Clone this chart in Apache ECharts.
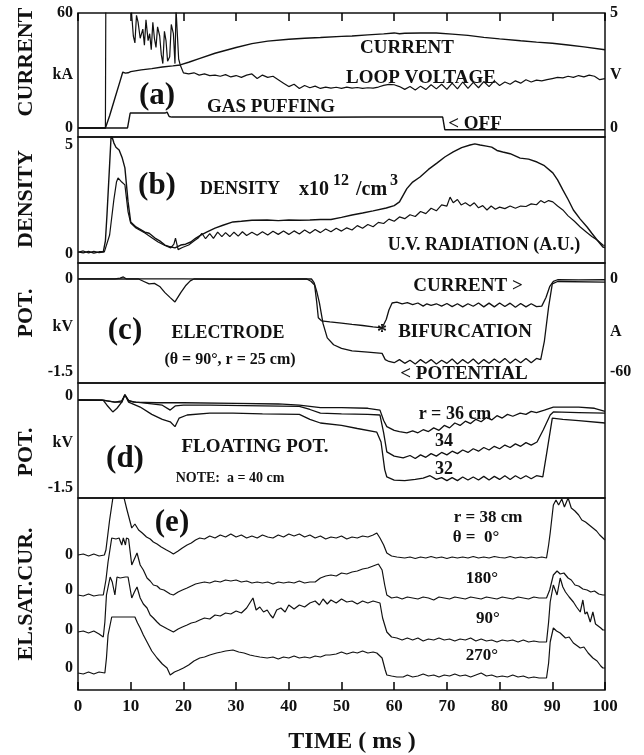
<!DOCTYPE html>
<html>
<head>
<meta charset="utf-8">
<script src="https://cdn.jsdelivr.net/npm/echarts@6/dist/echarts.min.js"></script>
<style>
  html, body { margin: 0; padding: 0; background: #fff; }
  #chart { width: 644px; height: 755px; }
</style>
</head>
<body>
<div id="chart"></div>
<script>
// ---- data: [time ms, value] ----

// (a) current in kA, loop voltage in V, gas puffing (arb., on kA scale)
const plasmaCurrent = [[0,0],[5.2,0],[5.4,1],[6,6.4],[7,15.5],[8,24.6],[8.5,29.2],[9,28.6],[9.5,28.8],[10,29.4],[12,30.3],[14,31],[16,31.8],[18,32.4],[19.4,32.9],[21,34.3],[23,36.2],[26,39],[30,42],[33,44],[36,45.3],[40,46.3],[43,46.8],[46,47.2],[50,47.8],[52,48],[55,48.6],[58,49.1],[60,49.6],[61,49.2],[62,49.4],[65,49.6],[68,49.6],[71,49],[74,48.3],[77,47.3],[80,46.5],[84,45.5],[87,44.8],[90,44.2],[93,43.3],[96,42.3],[100,40.8]];
const loopVoltage = [[0,0],[5.2,0],[5.3,7],[10,7],[10.1,5.2],[10.5,4.0],[10.8,3.7],[11.1,4.9],[11.4,4.6],[11.8,3.9],[12.3,4.3],[12.6,3.6],[12.9,4.7],[13.3,3.8],[13.6,4.1],[13.9,3.4],[14.2,4.6],[14.5,3.9],[14.8,3.5],[15.1,4.4],[15.5,4.0],[15.8,3.2],[16.1,2.8],[16.4,4.2],[16.7,3.8],[17.0,2.9],[17.4,3.1],[17.7,4.5],[18.1,4.1],[18.4,2.8],[18.6,5.2],[18.8,4.3],[19.1,3.0],[19.4,2.74],[20,2.4],[21,2.35],[22,2.4],[23,2.3],[24,2.35],[25,2.28],[26,2.3],[27,2.25],[28,2.32],[29,2.22],[30,2.28],[31,2.2],[32,2.3],[33,2.35],[34,2.15],[35,2.3],[36,2.2],[37,2.25],[38,2.1],[39,1.95],[40,1.8],[41,1.9],[42,1.72],[43,1.85],[44,1.75],[45,1.82],[46,1.72],[47,1.78],[48,1.73],[49,1.77],[50,1.72],[51,1.78],[52,1.73],[53,1.76],[54,1.72],[55,1.75],[56,1.73],[57,1.78],[58,1.85],[59,1.9],[60,1.88],[61,1.8],[62,1.68],[63,1.8],[64,1.65],[65,1.82],[66,1.67],[67,1.88],[68,1.7],[69,1.9],[70,1.68],[71,1.95],[72,1.7],[73,2.0],[74,1.72],[75,1.98],[76,1.75],[77,2.02],[78,1.8],[79,2.05],[80,1.85],[81,2.0],[82,1.9],[83,2.05],[84,1.95],[85,2.1],[86,2.0],[87,2.08],[88,2.05],[89,2.1],[90,2.15],[91,2.2],[92,2.18],[93,2.25],[94,2.2],[95,2.28],[96,2.22],[97,2.3],[98,2.25],[99,2.1],[100,2.15]];
const gasPuffing = [[0,0],[9.4,0],[9.9,7.8],[16.5,7.8],[16.9,8.3],[17.3,6.0],[17.8,5.7],[30,5.7],[45,5.6],[55,5.7],[69.2,5.7],[69.6,-0.9],[100,-0.9]];

// (b) density x10^12 /cm^3 and U.V. radiation (A.U.)
const density = [[0,0.1],[1,0.05],[2,0.12],[3,0.04],[4,0.1],[4.8,0.1],[5.2,0.6],[5.5,1.8],[6.0,4.1],[6.3,5.5],[6.8,5.1],[7.2,4.9],[7.8,4.77],[8.4,4.4],[8.9,3.95],[9.5,2.39],[10,1.47],[11,1.24],[12.7,1.0],[13.5,0.95],[14.6,0.73],[15.5,0.6],[16.5,0.41],[17.5,0.33],[18.4,0.28],[19.5,0.41],[20.4,0.45],[21.4,0.55],[22.3,0.72],[23.3,0.87],[24.5,1.02],[26,1.19],[27.5,1.32],[29.4,1.47],[31,1.5],[33,1.55],[35.9,1.56],[38,1.53],[40,1.56],[42,1.55],[44,1.56],[46,1.58],[48,1.58],[50,1.68],[52,1.79],[54,1.88],[56,1.98],[58.5,2.11],[60,2.22],[61,2.39],[62.4,3.0],[63.5,3.3],[64.9,3.53],[66.5,3.88],[68.1,4.17],[69.6,4.45],[71.2,4.68],[72.8,4.88],[74.4,5.0],[75.3,5.05],[76.3,5.0],[77.5,4.95],[78.5,4.9],[79.5,4.75],[80.6,4.68],[82,4.6],[83.9,4.4],[85.5,4.35],[87.1,4.22],[88.5,4.05],[90.1,3.72],[91,3.4],[92,2.94],[93,2.5],[94,2.02],[95.3,1.6],[96.6,1.24],[97.5,0.95],[98.5,0.64],[99.6,0.32],[100,0.3]];
const uvRadiation = [[0,0.08],[1,0.14],[2,0.05],[3,0.12],[4,0.06],[5,0.1],[5.3,0.12],[6,0.87],[6.8,2.48],[7.3,3.3],[7.6,3.49],[8.3,3.3],[8.9,3.17],[9.5,1.93],[10,1.42],[11,1.19],[12.7,0.96],[14,0.75],[15.2,0.55],[16.4,0.4],[17.6,0.28],[18.2,0.45],[18.5,0.73],[19,0.2],[19.8,0.3],[21,0.41],[22,0.6],[22.8,0.73],[23.5,0.95],[24.2,0.7],[25,0.93],[25.7,0.72],[26.5,1.0],[27.3,0.8],[28,0.98],[28.8,0.8],[29.6,1.0],[30.4,0.82],[31.2,1.02],[32,0.85],[33,1.0],[34,0.86],[35,1.02],[36,0.87],[37,1.04],[38,0.9],[39,1.05],[40,0.9],[41,1.06],[42,0.92],[43,1.1],[44,0.95],[45,1.12],[46,0.98],[47,1.15],[48,1.02],[49,1.18],[50,1.05],[51,1.2],[52,1.1],[53,1.3],[54,1.18],[55,1.35],[56,1.25],[57,1.45],[58,1.4],[59,1.6],[60,1.5],[61,1.7],[62,1.62],[63,1.8],[64,1.72],[65,1.95],[66,1.85],[67,2.1],[68,1.98],[69,2.25],[70,2.2],[70.6,2.61],[71.2,2.35],[72,2.5],[72.7,2.25],[73.5,2.35],[74.4,2.2],[75.2,2.35],[76,2.12],[76.8,2.22],[77.6,2.02],[78.4,2.2],[79.2,2.05],[80,2.15],[81,2.08],[82,2.2],[83,2.1],[84,2.2],[85,2.18],[86,2.3],[87,2.26],[87.8,2.45],[88.5,2.35],[89.3,2.45],[90.1,2.39],[91,2.2],[92,2.02],[93,1.75],[94.2,1.5],[95.3,1.24],[96.5,1.0],[97.5,0.8],[98.5,0.64],[99.6,0.41],[100,0.4]];

// (c) electrode potential in kV, electrode current in A
const electrodePot = [[0,0],[11.5,0],[12.5,-0.04],[13.5,-0.08],[14.5,-0.07],[15.5,-0.12],[16.5,-0.22],[17.5,-0.3],[18.4,-0.37],[19.5,-0.22],[20.5,-0.1],[21.3,-0.03],[22,0],[44.3,0],[44.8,-0.06],[45.3,-0.2],[45.8,-0.38],[46.5,-0.72],[47.3,-0.95],[48.5,-1.06],[50,-1.12],[52,-1.16],[55,-1.18],[57.7,-1.2],[58.3,-1.3],[59,-1.33],[60,-1.35],[61,-1.3],[62,-1.36],[63,-1.31],[64,-1.37],[65,-1.3],[66,-1.36],[67,-1.3],[68,-1.37],[69,-1.31],[70,-1.36],[71,-1.29],[72,-1.37],[73,-1.3],[74,-1.36],[75,-1.29],[76,-1.37],[77,-1.3],[78,-1.36],[79,-1.29],[80,-1.35],[81,-1.28],[82,-1.36],[83,-1.29],[84,-1.35],[85,-1.28],[86,-1.35],[87,-1.28],[87.8,-1.3],[88.5,-1.0],[89.3,-0.45],[90,-0.08],[91,-0.04],[100,-0.05]];
const electrodeCur = [[0,0],[7,0],[8,0.5],[8.6,1.3],[9.2,0],[20,0],[30,-0.3],[43.4,0],[44.2,-1.5],[44.9,-4],[45.3,-15],[45.6,-25],[46.2,-27],[47.8,-27.7],[50,-28.5],[52,-29.3],[54,-30],[56,-30.9],[57.7,-31.6],[58.5,-26],[59,-20],[59.6,-15.5],[60.5,-15],[61.5,-16],[62.5,-15.3],[63.5,-16.5],[64.5,-15.5],[65.5,-17.5],[66.2,-16],[67,-17],[68,-16],[69,-17.5],[70,-15.8],[71,-17.8],[72,-16],[73,-18],[74,-16],[75,-17.6],[76,-15.5],[77,-18],[78,-15.6],[79,-18],[80,-15.5],[81,-17.8],[82,-15.6],[83,-18.2],[84,-15.8],[85,-18],[86,-16],[87,-17.8],[88,-17.5],[88.8,-12],[89.5,-5],[90.2,-1.5],[91,-0.5],[95,-0.6],[100,-0.5]];

// (d) floating potential in kV at r = 36, 34, 32 cm
const floatR36 = [[0,-0.065],[4.5,-0.065],[5.5,-0.08],[7,-0.1],[8.3,-0.1],[8.9,0.02],[9.6,-0.07],[10.5,-0.1],[15,-0.11],[20,-0.11],[30,-0.12],[38,-0.13],[42,-0.15],[46,-0.19],[50,-0.19],[55,-0.2],[57.3,-0.23],[58,-0.4],[58.6,-0.5],[60,-0.56],[61,-0.58],[62.4,-0.6],[63.5,-0.57],[64.5,-0.6],[65.5,-0.55],[66.5,-0.58],[67.5,-0.52],[68.5,-0.56],[69.5,-0.48],[70.5,-0.52],[71.5,-0.44],[72.5,-0.48],[73.5,-0.41],[74.5,-0.45],[75.5,-0.38],[76.5,-0.42],[77.5,-0.35],[78.5,-0.39],[79.5,-0.32],[80.5,-0.36],[81.5,-0.3],[82.5,-0.33],[83.9,-0.28],[85,-0.3],[86,-0.25],[87,-0.27],[88.5,-0.23],[89.5,-0.2],[90.2,-0.18],[95,-0.18],[98,-0.2],[100,-0.25]];
const floatR34 = [[0,-0.065],[5,-0.07],[7,-0.1],[8.3,-0.08],[8.9,0.02],[9.6,-0.08],[11,-0.1],[14,-0.13],[16,-0.15],[17.5,-0.23],[18.5,-0.16],[20,-0.15],[25,-0.15],[35,-0.16],[42,-0.17],[44,-0.22],[46,-0.28],[50,-0.29],[55,-0.3],[57.3,-0.31],[58,-0.6],[58.6,-0.91],[60,-0.98],[61.7,-1.01],[63,-0.97],[64,-1.02],[65,-0.96],[66,-1.0],[67,-0.94],[68,-0.98],[69,-0.92],[70,-0.96],[71,-0.9],[72,-0.94],[73,-0.88],[74,-0.92],[75,-0.86],[76,-0.9],[77,-0.84],[78,-0.88],[79,-0.82],[80,-0.86],[81,-0.8],[82,-0.84],[83,-0.78],[84,-0.82],[85,-0.76],[86,-0.8],[87.1,-0.75],[88.3,-0.55],[89.6,-0.31],[90.2,-0.26],[95,-0.27],[100,-0.28]];
const floatR32 = [[0,-0.065],[4.8,-0.07],[5.5,-0.15],[6.6,-0.26],[7.4,-0.2],[8.3,-0.1],[8.9,0.02],[9.6,-0.1],[11.8,-0.18],[14,-0.3],[16,-0.38],[17.5,-0.42],[18.4,-0.5],[19.2,-0.36],[20.7,-0.31],[25,-0.28],[29.4,-0.28],[35,-0.29],[42,-0.3],[44,-0.38],[46,-0.44],[50,-0.48],[53,-0.53],[56.7,-0.59],[57.5,-0.75],[58.2,-1.2],[58.6,-1.32],[60,-1.37],[62,-1.38],[64,-1.36],[65.5,-1.34],[66.8,-1.3],[68,-1.36],[69,-1.33],[70,-1.38],[71,-1.33],[72,-1.38],[73,-1.32],[74,-1.37],[75,-1.32],[76,-1.37],[77,-1.31],[78,-1.37],[79,-1.31],[80,-1.36],[81,-1.3],[82,-1.36],[83,-1.3],[84,-1.35],[85,-1.3],[86,-1.35],[87,-1.3],[88.2,-1.32],[89,-0.9],[90,-0.36],[92,-0.38],[95,-0.4],[100,-0.44]];

// (e) electron saturation current (A.U.), each relative to its own zero
const satCur0 = [[0,0],[1,1],[2,-1],[3,1],[4,-1],[5,0],[5.3,5],[6,35],[6.7,60],[8.6,60],[9.3,45],[10.2,27],[10.8,31],[11.5,25],[12.2,22],[13,18],[13.7,16],[14.3,13],[15,11],[15.8,8],[16.8,5],[17.5,3],[18.1,1],[19,4],[19.8,7],[20.7,10],[21.5,12],[22.3,15],[23.1,17],[24,16],[25,19],[26,17],[27,20],[28,18],[29,21],[30,18],[31,20],[32,17],[33,19],[34,17],[35,20],[36,18],[37,17],[38,20],[39,18],[40,21],[41,19],[42,21],[43,18],[44,20],[45,17],[46,19],[47,16],[48,18],[49,17],[50,19],[51,16],[52,18],[53,17],[54,19],[55,18],[56,20],[56.7,22],[57.3,17],[58,10],[58.6,2],[59.5,-1],[60.5,-2],[62,-3],[63,-2],[64,-3.5],[65,-2],[66,-3],[67,-1.5],[68,-3],[69,-2],[70,-3.5],[71,-2],[72,-3],[73,-2],[74,-3],[75,-1.5],[76,-3],[77,-2],[78,-3],[79,-1.5],[80,-2.5],[81,-3],[82,-1.5],[83,-3],[84,-2],[85,-3],[86,-2],[87,-3],[88,-2],[88.9,-3],[89.3,10],[89.6,22],[90.2,50],[90.7,55],[91.2,50],[91.8,56],[92.3,48],[93,57],[93.6,47],[94.3,44],[95,40],[95.6,35],[96.3,33],[97,30],[97.7,27],[98.4,24],[99,20],[99.6,17],[100,15]];
const satCur180 = [[0,0],[1,-1],[2,1],[3,-1],[4,0],[4.8,0],[5.3,15],[5.7,33],[6.4,57],[7.2,56],[7.8,57],[8.3,50],[8.6,57],[9,50],[9.2,57],[9.6,56],[10.2,30],[10.7,36],[11.2,42],[11.8,30],[12.4,25],[13.1,17],[13.7,14],[14.3,10],[15,9],[15.6,6],[16.3,5],[16.9,3],[17.5,1],[18.1,0],[19,3],[19.8,5],[20.7,7],[21.5,9],[22.3,11],[23.1,12],[24,13],[25,12],[26,14],[27,13],[28,15],[29,14],[30,15],[31,13],[32,14],[33,12],[34,13],[35,12],[36,13],[37,11],[38,13],[39,12],[40,13],[41,12],[42,14],[43,12],[44,13],[45,13],[46,17],[47,19],[48,20],[49,19],[50,22],[51,21],[52,23],[53,24],[54,26],[55,27],[56,29],[57,31],[57.3,33],[57.7,25],[58.2,10],[58.6,0],[59.5,-3],[60.5,-2],[61.5,-4],[62.5,-2],[63.5,-3],[64.5,-4],[65.5,-2],[66.5,-3],[67.5,-5],[68.5,-2],[69.5,-3],[70.5,-4],[71.5,-2],[72.5,-3],[73.5,-4],[74.5,-2],[75.5,-3],[76.5,-4],[77.5,-2],[78.5,-3],[79.5,-4],[80.5,-2],[81.5,-3],[82.5,-4],[83.5,-2],[84.5,-3],[85.5,-4],[86.5,-2],[87.5,-3],[88.9,-3],[89.5,5],[90.2,20],[90.9,24],[91.5,21],[92.2,22],[93,17],[93.6,15],[94.3,10],[95,9],[95.8,6],[96.6,5],[97.3,3],[98,4],[98.8,1],[99.6,0],[100,0]];
const satCur90 = [[0,0],[1,1],[2,-1],[3,1],[4,-2],[4.8,-5],[5.1,10],[5.4,37],[6.1,55],[6.5,50],[7.0,37],[7.4,55],[8,54],[9,55],[9.5,55],[10.2,34],[10.7,40],[11.2,45],[11.8,34],[12.4,28],[13.1,24],[13.7,17],[14.3,14],[15,10],[15.6,7],[16.3,5],[17,3],[18.1,0],[19,3],[19.8,5],[20.7,7],[21.5,9],[22.3,10],[23.1,12],[24,14],[25,13],[26,17],[27,16],[28,19],[29,18],[30,21],[31,19],[32,24],[33.2,34],[33.8,22],[34.5,25],[35.2,20],[35.9,22],[36.5,17],[37,14],[37.7,22],[38.5,24],[39.3,20],[40,27],[41,23],[42,27],[43,25],[44,29],[45,31],[45.8,27],[46.5,33],[47.3,28],[48,32],[49,29],[50,33],[51,30],[52,31],[53,28],[54,31],[55,29],[56,31],[57.3,29],[57.8,14],[58.6,0],[59.5,-5],[60.5,-6],[61.5,-8],[62.5,-6],[63.5,-8],[64.5,-6],[65.5,-9],[66.5,-7],[67.5,-8],[68.5,-6],[69.5,-8],[70.5,-7],[71.5,-9],[72.5,-7],[73.5,-8],[74.5,-6],[75.5,-9],[76.5,-7],[77.5,-9],[78.5,-8],[79.5,-10],[80.5,-8],[81.5,-9],[82.5,-8],[83.5,-10],[84.5,-8],[85.5,-10],[86.5,-9],[87.5,-10],[88.9,-10],[89.3,10],[89.6,30],[90.2,47],[90.9,37],[91.5,54],[92,45],[92.5,40],[93.2,35],[94,30],[94.6,25],[95.3,20],[95.8,32],[96.2,18],[96.6,20],[97.2,10],[97.7,20],[98.2,8],[98.5,7],[99.2,4],[99.6,2],[100,2]];
const satCur270 = [[0,0],[1,-1],[2,1],[3,-1],[4,1],[5.1,0],[5.4,15],[5.7,38],[6.4,56],[10.8,56],[11.3,50],[11.8,45],[12.4,38],[13.1,31],[14,22],[15,15],[16,9],[16.9,5],[17.5,-2],[18.3,1],[19.2,3],[20,5],[21,8],[22,12],[23.1,15],[24,16],[25,18],[26.3,20],[27.2,21],[28,22],[29.4,23],[30.5,21],[31.5,20],[32.6,18],[33.5,17],[34.5,16],[35.9,15],[37,16],[38,14],[39,16],[40,15],[41,17],[42,15],[43,16],[44,15],[45,17],[46,16],[47,18],[47.8,18],[49,19],[50,21],[51,19],[52.2,21],[53,20],[54,22],[55,20],[56,21],[56.7,20],[57.7,15],[58.3,3],[58.6,-2],[59.5,-3],[60.5,-4],[61.7,-4],[62.5,-2],[63.5,-4],[64.5,-3],[65.5,-1],[66.5,-3],[67.5,-2],[68.5,-4],[69.5,-2],[70.5,-3],[71.5,-1],[72.5,-3],[73.5,-2],[74.5,-4],[75.5,-2],[76.5,0],[77.5,-3],[78.5,-2],[79.5,-4],[80.5,-3],[81.5,-4],[82.5,-2],[83.5,-4],[84.5,-3],[85.5,-5],[86.5,-4],[87.5,-5],[88.9,-5],[89.3,10],[89.6,31],[90.2,45],[90.8,42],[91.5,40],[92.5,35],[93.2,36],[94,30],[95.3,25],[96,26],[96.8,20],[97.7,15],[98.5,12],[99.2,7],[99.6,5],[100,5]];

// tick values and their labels
const ticksA = [0, 27.6, 60], labelsA = ['0', 'kA', '60'];
const ticksAR = [0, 2.3, 5], labelsAR = ['0', 'V', '5'];
const ticksB = [0, 5], labelsB = ['0', '5'];
const ticksC = [0, -0.77, -1.5], labelsC = ['0', 'kV', '-1.5'];
const ticksCR = [0, -34, -60], labelsCR = ['0', 'A', '-60'];
const ticksD = [0, -0.77, -1.5], labelsD = ['0', 'kV', '-1.5'];
const zeroE = [135, 100, 60, 22], labelsE = ['0', '0', '0', '0'];
const traceOffsetE = [135, 95, 58, 17];

const FONT = '"Liberation Serif", "DejaVu Serif", serif';
const INK = '#111';

const chart = echarts.init(document.getElementById('chart'));

function pick(ticks, labels) {
  return (v) => {
    let best = 0;
    ticks.forEach((t, i) => { if (Math.abs(t - v) < Math.abs(ticks[best] - v)) best = i; });
    return labels[best];
  };
}

function yAx(grid, min, max, ticks, labels, pos) {
  return {
    type: 'value', gridIndex: grid, min, max, position: pos || 'left',
    axisLine: { show: false }, axisTick: { show: false }, splitLine: { show: false },
    axisLabel: {
      customValues: ticks, formatter: pick(ticks, labels), margin: 5,
      color: INK, fontFamily: FONT, fontWeight: 'bold', fontSize: 16,
    },
  };
}

// panel x axes: only the bottom one carries labels
function xAx(grid, kind) {
  return {
    type: 'value', gridIndex: grid, min: 0, max: 100, interval: 10, z: 10,
    splitLine: { show: false },
    axisLine: { show: false, onZero: false },
    axisTick: { show: false },
    axisLabel: { show: kind === 'bottom', color: INK, fontFamily: FONT, fontWeight: 'bold', fontSize: 17, margin: 8 },
  };
}

// tick marks: split lines of thin strips along the top and bottom frame edges
function tickStripAx(grid) {
  return {
    type: 'value', gridIndex: grid, min: 0, max: 100, interval: 10, z: 10,
    axisLine: { show: false }, axisTick: { show: false }, axisLabel: { show: false },
    splitLine: { show: true, lineStyle: { color: '#000', width: 1.5 } },
  };
}

function trace(data, xi, yi, width) {
  return {
    type: 'line', xAxisIndex: xi, yAxisIndex: yi, data,
    symbol: 'none', clip: true, animation: false, silent: true,
    lineStyle: { color: INK, width: width || 1.2 },
  };
}

const grids = [
  { top: 13, height: 124 },
  { top: 137, height: 126 },
  { top: 263, height: 120 },
  { top: 383, height: 115 },
  { top: 498, height: 192 },
].map(g => ({ ...g, left: 78, right: 39, show: true, borderColor: INK, borderWidth: 1.5 }));
grids.push({ top: 13, height: 8, left: 78, right: 39, show: false });
grids.push({ top: 682, height: 8, left: 78, right: 39, show: false });

const satSeries = [satCur0, satCur180, satCur90, satCur270].map((d, i) =>
  trace(d.map(([t, v]) => [t, v + traceOffsetE[i]]), 4, 6));

function txt(text, x, y, size, align) {
  return {
    type: 'text', x, y, silent: true, z: 20,
    style: { text, font: 'bold ' + size + 'px ' + FONT, fill: INK, align: align || 'center', verticalAlign: 'middle' },
  };
}
function vtxt(text, x, y, size) {
  return Object.assign(txt(text, x, y, size), { rotation: Math.PI / 2 });
}

chart.setOption({
  animation: false,
  backgroundColor: '#fff',
  grid: grids,
  xAxis: [xAx(0), xAx(1), xAx(2), xAx(3), xAx(4, 'bottom'), tickStripAx(5), tickStripAx(6)],
  yAxis: [
    yAx(0, -4.7, 60, ticksA, labelsA),
    yAx(0, -0.392, 5, ticksAR, labelsAR, 'right'),
    yAx(1, -0.413, 5.367, ticksB, labelsB),
    yAx(2, -1.677, 0.258, ticksC, labelsC),
    yAx(2, -67.1, 10.3, ticksCR, labelsCR, 'right'),
    yAx(3, -1.663, 0.212, ticksD, labelsD),
    yAx(4, 0, 192, zeroE, labelsE),
    { type: 'value', gridIndex: 5, min: 0, max: 1, show: false },
    { type: 'value', gridIndex: 6, min: 0, max: 1, show: false },
  ],
  series: [
    trace(plasmaCurrent, 0, 0, 1.4),
    trace(loopVoltage, 0, 1),
    trace(gasPuffing, 0, 0, 1.4),
    trace(density, 1, 2, 1.4),
    trace(uvRadiation, 1, 2),
    trace(electrodePot, 2, 3, 1.3),
    trace(electrodeCur, 2, 4, 1.3),
    trace(floatR36, 3, 5, 1.3),
    trace(floatR34, 3, 5, 1.3),
    trace(floatR32, 3, 5, 1.3),
    ...satSeries,
  ],
  graphic: [
    vtxt('CURRENT', 26, 62, 22),
    vtxt('DENSITY', 26, 199, 22),
    vtxt('POT.', 26, 313, 22),
    vtxt('POT.', 26, 452, 22),
    vtxt('EL.SAT.CUR.', 26, 594, 22),
    txt('TIME ( ms )', 352, 742, 24),

    txt('(a)', 157, 96, 31),
    txt('CURRENT', 407, 48, 19),
    txt('LOOP VOLTAGE', 421, 78, 19),
    txt('GAS PUFFING', 271, 107, 19),
    txt('< OFF', 475, 124, 19),

    txt('(b)', 157, 186, 31),
    txt('DENSITY', 240, 189, 18),
    txt('x10', 299, 190, 20, 'left'),
    txt('12', 333, 181, 16, 'left'),
    txt('/cm', 356, 190, 20, 'left'),
    txt('3', 390, 181, 16, 'left'),
    txt('U.V. RADIATION (A.U.)', 484, 245, 18),

    txt('(c)', 125, 331, 31),
    txt('ELECTRODE', 228, 333, 18),
    txt('(θ = 90°, r = 25 cm)', 230, 360, 16),
    txt('CURRENT >', 468, 286, 19),
    txt('*', 382, 333, 20),
    txt('BIFURCATION', 465, 332, 19),
    txt('< POTENTIAL', 464, 374, 19),

    txt('(d)', 125, 459, 31),
    txt('FLOATING POT.', 255, 447, 19),
    txt('NOTE:  a = 40 cm', 230, 478, 14),
    txt('r = 36 cm', 455, 414, 18),
    txt('34', 444, 441, 18),
    txt('32', 444, 469, 18),

    txt('(e)', 172, 523, 31),
    txt('r = 38 cm', 488, 518, 17),
    txt('θ =  0°', 476, 538, 17),
    txt('180°', 482, 579, 17),
    txt('90°', 488, 619, 17),
    txt('270°', 482, 656, 17),
  ],
});
</script>
</body>
</html>
